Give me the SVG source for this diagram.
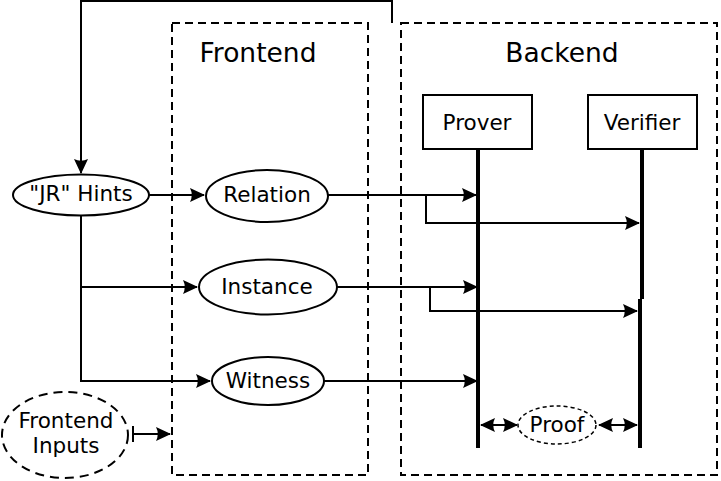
<svg xmlns="http://www.w3.org/2000/svg" width="721" height="481" viewBox="0 0 721 481">
<defs>
<style>
text{font-family:"DejaVu Sans","Liberation Sans",sans-serif;fill:#000;text-anchor:middle}
.t{font-size:26.5px}
.n{font-size:21.5px}
.node{fill:#fff;stroke:#000;stroke-width:2}
.dash{fill:none;stroke:#000;stroke-width:2;stroke-dasharray:8,5}
.c{fill:none;stroke:#000;stroke-width:2}
.life{fill:none;stroke:#000;stroke-width:4}
</style>
<marker id="ah" viewBox="0 0 16 16" refX="14" refY="8" markerWidth="16" markerHeight="16" markerUnits="userSpaceOnUse" orient="auto-start-reverse">
<path d="M0,1 L15,8 L0,15 Q3.5,8 0,1 Z" fill="#000"/>
</marker>
</defs>
<rect width="721" height="481" fill="#fff"/>
<g id="frontend">
<rect class="dash" x="172" y="23" width="196" height="452"/>
<text class="t" x="258" y="62">Frontend</text>
</g>
<g id="backend">
<rect class="dash" x="401" y="23" width="316" height="452"/>
<text class="t" x="562" y="62">Backend</text>
</g>
<g id="prover">
<rect class="node" x="423" y="95" width="109" height="54"/>
<text class="n" x="477" y="130">Prover</text>
<line class="life" x1="478" y1="149" x2="478" y2="448"/>
</g>
<g id="verifier">
<rect class="node" x="588" y="95" width="109" height="54"/>
<text class="n" x="642" y="130">Verifier</text>
<line class="life" x1="642" y1="149" x2="642" y2="299"/>
<line class="life" x1="640" y1="299" x2="640" y2="448"/>
</g>
<g id="connectors">
<polyline class="c" points="392,23 392,1 81,1 81,173" marker-end="url(#ah)"/>
<line class="c" x1="149" y1="195" x2="204" y2="195" marker-end="url(#ah)"/>
<line class="c" x1="328" y1="195" x2="476" y2="195" marker-end="url(#ah)"/>
<polyline class="c" points="426,195 426,223 639,223" marker-end="url(#ah)"/>
<polyline class="c" points="81,215 81,381 210,381" marker-end="url(#ah)"/>
<line class="c" x1="81" y1="287" x2="197" y2="287" marker-end="url(#ah)"/>
<line class="c" x1="337" y1="287" x2="477" y2="287" marker-end="url(#ah)"/>
<polyline class="c" points="430,287 430,311 637,311" marker-end="url(#ah)"/>
<line class="c" x1="324" y1="381" x2="477" y2="381" marker-end="url(#ah)"/>
<line class="c" x1="133" y1="434" x2="170" y2="434" marker-end="url(#ah)"/>
<line class="c" x1="133" y1="426" x2="133" y2="442"/>
<line class="c" x1="481" y1="425" x2="517" y2="425" marker-start="url(#ah)" marker-end="url(#ah)"/>
<line class="c" x1="599" y1="425" x2="637" y2="425" marker-start="url(#ah)" marker-end="url(#ah)"/>
</g>
<g id="hints">
<ellipse class="node" cx="81" cy="195" rx="68" ry="20.5"/>
<text class="n" x="81" y="201">"JR" Hints</text>
</g>
<g id="relation">
<ellipse class="node" cx="267" cy="196" rx="61" ry="26"/>
<text class="n" x="267" y="202">Relation</text>
</g>
<g id="instance">
<ellipse class="node" cx="268" cy="287" rx="69" ry="27.5"/>
<text class="n" x="267" y="294">Instance</text>
</g>
<g id="witness">
<ellipse class="node" cx="268" cy="381" rx="56" ry="24"/>
<text class="n" x="268" y="388">Witness</text>
</g>
<g id="frontend-inputs">
<ellipse cx="65" cy="435" rx="63" ry="43" fill="#fff" stroke="#000" stroke-width="2" stroke-dasharray="9,6"/>
<text class="n" x="66" y="428">Frontend</text>
<text class="n" x="66" y="453">Inputs</text>
</g>
<g id="proof">
<ellipse cx="557" cy="425" rx="39" ry="19" fill="#fff" stroke="#000" stroke-width="1.5" stroke-dasharray="4,3"/>
<text class="n" x="557" y="432">Proof</text>
</g>
</svg>
